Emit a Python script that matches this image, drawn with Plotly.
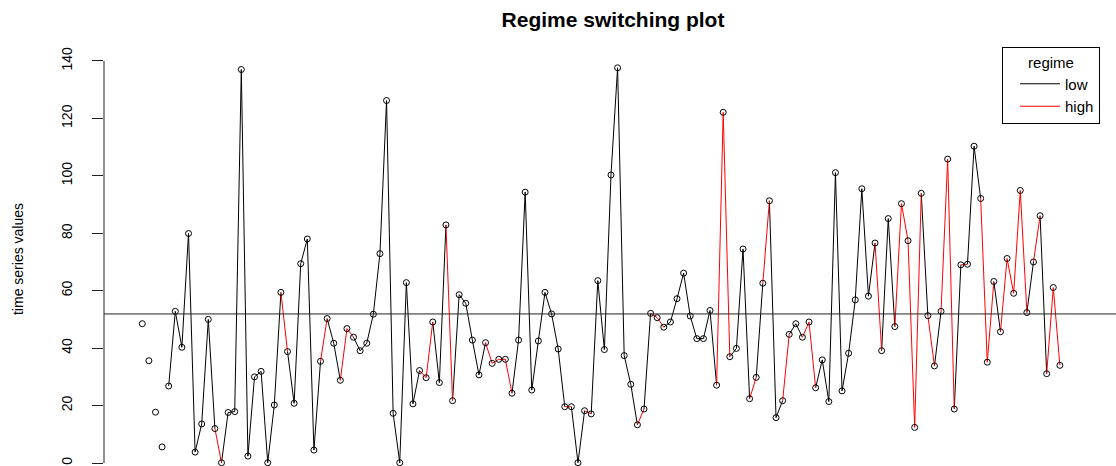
import plotly.graph_objects as go

# ---- data ----
values = [48.5, 35.6, 17.7, 5.6, 26.8, 52.8, 40.3, 79.9, 3.8, 13.6,
          50.0, 12.0, 0.1, 17.6, 17.9, 137.0, 2.4, 30.0, 31.9, 0.1,
          20.2, 59.4, 38.8, 20.8, 69.4, 78.0, 4.5, 35.4, 50.3, 41.7,
          28.8, 46.8, 43.8, 39.1, 41.7, 51.8, 72.9, 126.2, 17.3, 0.1,
          62.8, 20.6, 32.2, 29.7, 49.1, 28.0, 82.9, 21.7, 58.6, 55.6,
          42.8, 30.7, 41.9, 34.7, 36.1, 36.1, 24.3, 42.8, 94.3, 25.4,
          42.5, 59.4, 51.9, 39.7, 19.6, 19.6, 0.1, 18.2, 17.1, 63.5,
          39.5, 100.3, 137.6, 37.4, 27.4, 13.3, 18.8, 52.1, 50.6, 47.3,
          49.1, 57.2, 66.1, 51.2, 43.3, 43.3, 53.1, 27.1, 122.1, 37.0,
          39.9, 74.5, 22.4, 29.8, 62.6, 91.3, 15.8, 21.7, 44.8, 48.5,
          43.8, 49.1, 26.2, 35.9, 21.4, 101.1, 25.1, 38.2, 56.8, 95.5,
          58.1, 76.6, 39.1, 85.1, 47.5, 90.3, 77.4, 12.4, 93.9, 51.3,
          33.8, 52.8, 105.8, 18.8, 69.0, 69.2, 110.3, 92.1, 35.1, 63.2,
          45.7, 71.2, 59.1, 94.9, 52.4, 70.0, 86.1, 31.1, 61.1, 34.0]

# regime of the segment joining point i to point i+1 ("-" = not drawn)
segment_regime = ["-", "-", "-", "-",
                  "L", "L", "L", "L", "L", "L", "L", "H",
                  "L", "L", "L", "L", "L", "L", "L", "L", "L", "H",
                  "L", "L", "L", "L", "L", "H",
                  "L", "L", "H", "H",
                  "L", "L", "L", "L", "L", "L", "L", "L", "L", "L", "H", "H",
                  "L", "L", "H",
                  "L", "L", "L", "L", "L", "H", "H", "H", "H",
                  "L", "L", "L", "L", "L", "L", "L", "L", "H",
                  "L", "L", "H",
                  "L", "L", "L", "L", "L", "L", "L", "H",
                  "L", "H", "H",
                  "L", "L", "L", "L", "L", "L", "L", "L", "H", "H",
                  "L", "L", "L", "H", "L", "H", "L", "L", "H",
                  "L", "L", "H", "H",
                  "L", "L", "L", "L", "L", "L", "L", "L", "L", "H",
                  "L", "L", "H", "H", "H", "H",
                  "L", "H", "L", "H", "H", "L", "H", "L", "L", "H", "H",
                  "L", "H", "H", "H", "H", "L", "H", "L", "H", "H"]

regime_names = {"L": "low", "H": "high"}
regime_colors = {"L": "black", "H": "#ff0000"}
threshold = 51.9
y_ticks = [0, 20, 40, 60, 80, 100, 120, 140]

index = list(range(1, len(values) + 1))

fig = go.Figure()

for code in ["L", "H"]:
    xs, ys = [], []
    for i, r in enumerate(segment_regime):
        if r == code:
            xs += [index[i], index[i + 1], None]
            ys += [values[i], values[i + 1], None]
    fig.add_trace(go.Scatter(
        x=xs, y=ys, mode="lines", name=regime_names[code],
        line=dict(color=regime_colors[code], width=1),
        connectgaps=False, hoverinfo="skip"))

fig.add_trace(go.Scatter(
    x=index, y=values, mode="markers", showlegend=False,
    marker=dict(symbol="circle-open", size=6, color="black",
                line=dict(width=1, color="black"))))

# horizontal reference line
fig.add_shape(type="line", xref="paper", yref="y", x0=0, x1=1,
              y0=threshold, y1=threshold, line=dict(color="#222", width=1))
# y axis line only over the tick span (R style)
fig.add_shape(type="line", xref="paper", yref="y", x0=0, x1=0,
              y0=y_ticks[0], y1=y_ticks[-1], line=dict(color="#222", width=1))

fig.update_layout(
    width=1116, height=466,
    margin=dict(l=104, r=0, t=52, b=0, autoexpand=False),
    paper_bgcolor="white", plot_bgcolor="white",
    font=dict(family="Liberation Sans, Arial, sans-serif", color="black"),
    title=dict(text="<b>Regime switching plot</b>", x=0.503, xref="paper",
               xanchor="center", y=1 - 20 / 466, yanchor="middle",
               font=dict(size=21, color="black")),
    xaxis=dict(range=[-4.8, 148.5], visible=False),
    yaxis=dict(range=[-1.04, 143.1], showgrid=False, zeroline=False,
               showline=False, ticks="outside", ticklen=11, tickwidth=1,
               tickcolor="#222", tickvals=y_ticks,
               ticktext=[str(v) for v in y_ticks],
               tickangle=-90, tickfont=dict(size=14),
               ticklabelstandoff=14,
               title=dict(text="time series values", font=dict(size=14),
                          standoff=32)),
    legend=dict(x=(1002 - 104) / 1012, y=(466 - 47) / 414,
                xanchor="left", yanchor="top",
                bordercolor="black", borderwidth=1, bgcolor="white",
                font=dict(size=15), itemwidth=40, indentation=12,
                title=dict(text="regime", side="top center",
                           font=dict(size=15)),
                tracegroupgap=0),
    showlegend=True,
)

fig.write_html("out.html")
